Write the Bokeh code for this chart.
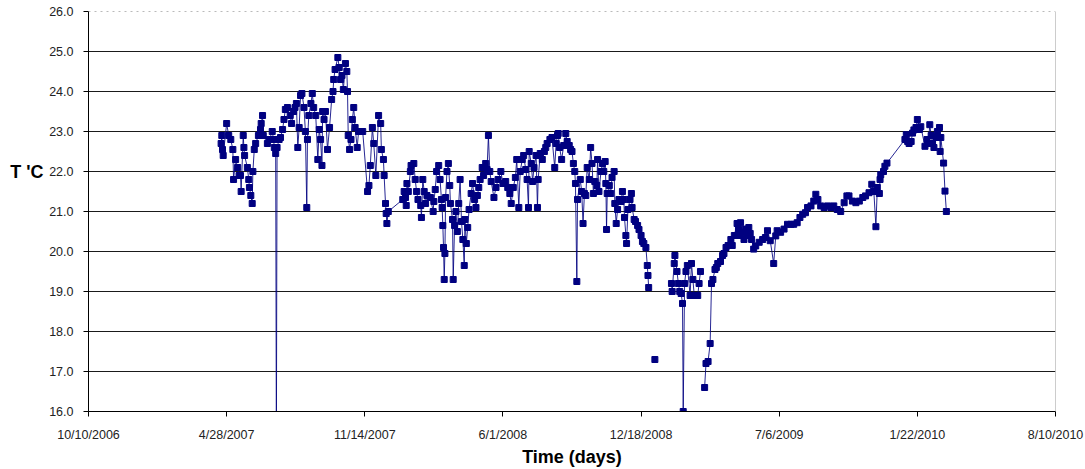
import numpy as np
from bokeh.plotting import figure
from bokeh.models import FixedTicker, NumeralTickFormatter, Span, LinearAxis, Range1d
from bokeh.embed import file_html
from bokeh.resources import INLINE

NaN = float("nan")

# x = date as spreadsheet serial day number (39000 = 10/10/2006); NaN temp = missing reading
day_serial = [
    39192, 39193, 39194, 39195, 39200, 39203, 39206, 39209, 39210, 39213,
    39216, 39218, 39220, 39221, 39224, 39225, 39226, 39230, 39232, 39233,
    39235, 39237, 39238, 39240, 39242, 39246, 39249, 39250, 39252, 39253,
    39259, 39262, 39266, 39268, 39269, 39271, 39272, 39273, 39276, 39278,
    39281, 39283, 39285, 39288, 39292, 39294, 39297, 39299, 39301, 39303,
    39305, 39307, 39309, 39312, 39314, 39316, 39317, 39319, 39322, 39324,
    39326, 39329, 39332, 39334, 39336, 39338, 39339, 39341, 39343, 39346,
    39349, 39352, 39354, 39355, 39357, 39361, 39363, 39365, 39367, 39369,
    39372, 39374, 39375, 39376, 39378, 39380, 39382, 39384, 39386, 39389,
    39391, 39397, 39404, 39406, 39408, 39411, 39413, 39416, 39420, 39423,
    39424, 39427, 39428, 39430, 39431, 39432, 39434,
    39455, 39457, 39459, 39460, 39461, 39463, 39466, 39467, 39471, 39473,
    39475, 39477, 39481, 39482, 39484, 39486, 39488, 39490, 39495, 39499,
    39500, 39502, 39504, 39507, 39509, 39511, 39512, 39513, 39514, 39515,
    39516, 39517, 39519, 39521, 39523, 39524, 39527, 39528, 39530, 39532,
    39534, 39536, 39538, 39540, 39542, 39544, 39545, 39547, 39549, 39551,
    39554, 39556, 39559, 39561, 39563, 39565, 39567, 39570, 39572, 39575,
    39577, 39579, 39581, 39583, 39587, 39590, 39593, 39597, 39600, 39604,
    39607, 39610, 39612, 39615, 39618, 39620, 39623, 39625, 39628, 39630,
    39633, 39635, 39637, 39638, 39641, 39643, 39645, 39648, 39650, 39651,
    39654, 39657, 39660, 39662, 39664, 39668, 39671, 39675, 39677, 39679,
    39680, 39682, 39685, 39688, 39691, 39693, 39696, 39698, 39700,
    39702, 39704, 39705, 39707, 39708, 39712, 39714, 39716, 39718, 39720,
    39722, 39725, 39727, 39729, 39731, 39733, 39736, 39737, 39739, 39742,
    39744, 39746, 39748, 39749, 39750, 39751, 39754, 39756, 39758, 39761,
    39762, 39764, 39766, 39768, 39771, 39773, 39775, 39776, 39778, 39779,
    39781, 39784, 39786, 39787, 39790, 39792, 39795, 39797, 39800, 39802,
    39804, 39807, 39809, 39810, 39811, 39815, 39820, 39830,
    39844, 39845, 39848, 39849, 39852, 39854, 39856, 39858, 39860, 39861,
    39863, 39865, 39867, 39871, 39873, 39875, 39877, 39879, 39882, 39884,
    39886, 39889, 39892, 39894, 39897, 39900, 39902, 39904, 39907, 39909,
    39911, 39915, 39918, 39920, 39923, 39926, 39930, 39932, 39935, 39939,
    39941, 39943, 39944, 39947, 39949, 39951, 39953, 39956, 39958, 39960,
    39963, 39966, 39971, 39976, 39980, 39983, 39987, 39992, 39995, 39997,
    40002, 40007, 40012, 40017, 40021, 40026, 40030, 40034, 40038, 40041,
    40046, 40050, 40053, 40056, 40060, 40065, 40070, 40075, 40079, 40084,
    40089, 40094, 40098, 40101, 40106, 40111, 40116, 40121, 40125, 40130,
    40134, 40137, 40140, 40142, 40145, 40146, 40147, 40151, 40153, 40156,
    40182, 40184, 40186, 40188, 40191, 40193, 40195, 40198, 40200, 40203,
    40205, 40211, 40214, 40216, 40218, 40220, 40222, 40224, 40227, 40229,
    40232, 40233, 40234, 40238, 40240, 40242,
]

temp_c = [
    22.7, 22.9, 22.55, 22.4, 23.2, 22.9, 22.8, 22.55, 21.8, 22.3,
    22.1, 21.9, 21.9, 21.5, 22.9, 22.6, 22.4, 22.1, 21.8, 21.6,
    21.4, 21.2, 22.0, 22.55, 22.7, 22.9, 23.05, 23.2, 23.4, 22.9,
    22.7, 22.8, 23.0, 22.8, 22.6, 22.45, 15.0, 22.6, 22.8, 22.85,
    23.05, 23.3, 23.55, 23.6, 23.4, 23.2, 23.5, 23.6, 23.7, 22.6,
    23.1, 23.9, 23.95, 23.6, 23.0, 21.1, 22.8, 23.4, 23.7, 23.95,
    23.6, 23.4, 22.3, 23.05, 22.8, 22.15, 23.5, 23.3, 23.5, 22.55,
    23.1, 23.8, 24.0, 24.3, 24.55, 24.85, 24.6, 24.3, 24.4, 24.05,
    24.7, 24.5, 24.0, 22.9, 22.55, 22.8, 23.3, 23.6, 23.1, 22.6,
    23.0, 23.0, 21.5, 21.65, 22.15, 23.1, 22.7, 21.9, 23.4, 23.2,
    22.55, 22.3, 21.9, 21.2, 20.95, 20.7, 21.0,
    21.3, 21.5, 21.35, 21.15, 21.7, 21.5, 22.0, 22.15, 22.2, 21.8,
    21.5, 21.3, 21.15, 20.85, 21.8, 21.5, 21.2, 21.4, 21.35, 21.0,
    21.25, 21.55, 22.0, 22.15, 21.8, 21.3, 21.1, 20.65, 20.1, 19.3,
    19.95, 21.35, 22.0, 22.2, 21.65, 21.2, 20.8, 19.3, 20.65, 21.0,
    20.5, 21.2, 21.8, 20.75, 20.3, 19.65, 20.8, 20.2, 20.6, 21.05,
    21.45, 21.7, 21.3, 21.1, 21.4, 21.6, 21.8, 22.1, 21.9, 22.2,
    22.05, 22.9, 22.0, 21.75, 21.35, 21.6, 21.8, 22.0, 21.7, 21.75,
    21.6, 21.45, 21.2, 21.6, 21.85, 22.3, 21.1, 22.0, 22.3, 22.4,
    22.05, 21.8, 21.1, 22.5, 22.2, 21.75, 22.1, 22.4, 21.1, 21.8,
    22.45, 22.3, 22.5, 22.6, 22.7, 22.8, 22.85, 22.1, 22.7, 22.9,
    22.95, 22.6, 22.3, 22.65, 22.95, 22.75, 22.65, 22.55, 22.5,
    22.2, 22.0, 21.7, 19.25, 21.3, 21.8, 21.5, 20.7, 21.45, 21.4,
    22.1, 21.8, 22.6, 22.2, 21.45, 21.75, 21.65, 22.3, 21.5, 22.0,
    22.2, 22.0, 22.25, 21.7, 20.55, 21.45, 21.65, 21.45, 21.85, 22.0,
    21.2, 20.7, 21.05, 21.3, 21.25, 21.5, 21.3, 20.85, 20.4, 20.2,
    21.05, 21.3, 21.45, 21.1, 20.8, 20.75, 20.65, 20.55, 20.4, 20.25,
    20.2, 20.1, 19.65, 19.4, 19.1, NaN, 17.3, NaN,
    19.2, 19.0, 19.7, 19.9, 19.5, 19.2, 19.0, 18.95, 18.7, 16.0,
    19.2, 19.5, 19.65, 18.9, 19.7, 19.3, 18.9, 18.9, 18.9, 19.2,
    19.5, NaN, 16.6, 17.2, 17.25, 17.7, 19.2, 19.3, 19.55, 19.6,
    19.7, 19.75, 19.9, 19.95, 20.1, 20.15, 20.3, 20.15, 20.4, 20.7,
    20.55, 20.4, 20.72, 20.48, 20.3, 20.56, 20.4, 20.6, 20.45, 20.3,
    20.06, 20.14, 20.23, 20.3, 20.35, 20.52, 20.27, 19.7, 20.39, 20.52,
    20.48, 20.56, 20.68, 20.68, 20.68, 20.72, 20.85, 20.93, 20.97, 21.1,
    21.14, 21.26, 21.43, 21.3, 21.14, 21.1, 21.14, 21.1, 21.14, 21.05,
    21.0, 21.22, 21.39, 21.39, 21.26, 21.22, 21.26, 21.35, 21.39, 21.47,
    21.68, 21.5, 20.62, 21.6, 21.45, 21.8, 21.92, 22.0, 22.13, 22.21,
    22.8, 22.92, 22.75, 22.7, 22.75, 22.96, 23.04, 23.1, 23.3, 23.05,
    23.12, 22.63, 22.8, 22.7, 23.17, 22.9, 22.7, 22.6, 22.85, 23.0,
    23.1, 22.5, 22.85, 22.21, 21.51, 21.0,
]

x_tick_serials = [39000, 39200, 39400, 39600, 39800, 40000, 40200, 40400]
x_tick_labels = ["10/10/2006", "4/28/2007", "11/14/2007", "6/1/2008",
                 "12/18/2008", "7/6/2009", "1/22/2010", "8/10/2010"]
y_ticks = [16, 17, 18, 19, 20, 21, 22, 23, 24, 25, 26]
y_title = "T 'C"
y_title_at = 22

FONT = "Liberation Sans"
NAVY = "#000080"

p = figure(width=1085, height=469, output_backend="svg", toolbar_location=None,
           x_range=Range1d(x_tick_serials[0], x_tick_serials[-1]),
           y_range=Range1d(y_ticks[0], y_ticks[-1]),
           min_border_left=88, min_border_right=30, min_border_top=11,
           min_border_bottom=57)
p.background_fill_color = "white"
p.border_fill_color = "white"
p.outline_line_color = None

x = np.array(day_serial, dtype=float)
y = np.array(temp_c, dtype=float)

p.line(x, y, line_color=NAVY, line_width=1, line_alpha=0.85)
p.scatter(x, y, marker="square", size=6, fill_color=NAVY, line_color=NAVY)

# axes
p.xaxis.ticker = FixedTicker(ticks=x_tick_serials)
p.xaxis.major_label_overrides = {t: l for t, l in zip(x_tick_serials, x_tick_labels)}
p.yaxis.ticker = FixedTicker(ticks=y_ticks)
p.yaxis.formatter = NumeralTickFormatter(format="0.0")
for ax in (p.xaxis, p.yaxis):
    ax.axis_line_color = "black"
    ax.axis_line_width = 1
    ax.major_tick_line_color = "black"
    ax.major_tick_out = 5
    ax.major_tick_in = 0
    ax.minor_tick_line_color = None
    ax.major_label_text_font = FONT
    ax.major_label_text_font_size = "12.5px"
    ax.major_label_text_color = "#222222"
p.yaxis.major_label_standoff = 10
p.xaxis.major_label_standoff = 11
p.xaxis.axis_label = "Time (days)"
p.xaxis.axis_label_text_font = FONT
p.xaxis.axis_label_text_font_size = "18px"
p.xaxis.axis_label_text_font_style = "bold"
p.xaxis.axis_label_text_color = "black"
p.xaxis.axis_label_standoff = 2

# y-axis title placed beside the 22.0 tick, horizontal, as in the original
title_axis = LinearAxis(ticker=FixedTicker(ticks=[y_title_at]),
                        major_label_overrides={y_title_at: y_title})
title_axis.axis_line_color = None
title_axis.major_tick_line_color = None
title_axis.minor_tick_line_color = None
title_axis.major_tick_out = 0
title_axis.major_tick_in = 0
title_axis.major_label_standoff = 3
title_axis.major_label_text_font = FONT
title_axis.major_label_text_font_size = "18px"
title_axis.major_label_text_font_style = "bold"
title_axis.major_label_text_color = "black"
p.add_layout(title_axis, "left")

p.xgrid.visible = False
p.ygrid.ticker = FixedTicker(ticks=y_ticks[1:-1])
p.ygrid.grid_line_color = "#1a1a1a"
p.ygrid.grid_line_width = 1

p.add_layout(Span(location=y_ticks[-1], dimension="width", line_color="#777777",
                  line_width=1, line_dash="dotted"))
p.add_layout(Span(location=x_tick_serials[-1], dimension="height",
                  line_color="#999999", line_width=1))

open("out.html", "w").write(file_html(p, INLINE))
